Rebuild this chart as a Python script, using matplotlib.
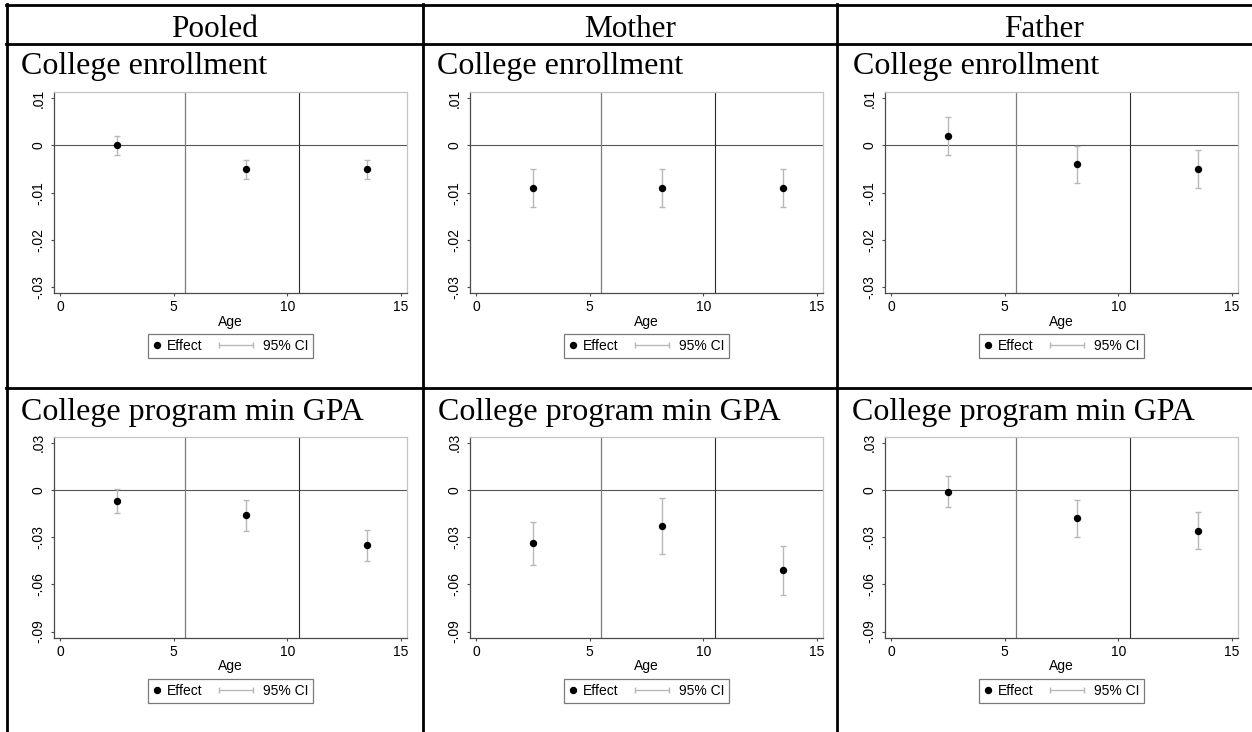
import numpy as np
import matplotlib
matplotlib.use("Agg")
import matplotlib.pyplot as plt
from matplotlib.lines import Line2D
from matplotlib.legend_handler import HandlerLine2D

# ---------------- data ----------------
ages = [2.5, 8.2, 13.5]
columns = ["Pooled", "Mother", "Father"]
outcomes = ["College enrollment", "College program min GPA"]

# College enrollment
enr_pooled = [0.0, -0.005, -0.005]
enr_pooled_lo = [-0.002, -0.007, -0.007]
enr_pooled_hi = [0.002, -0.003, -0.003]
enr_mother = [-0.009, -0.009, -0.009]
enr_mother_lo = [-0.013, -0.013, -0.013]
enr_mother_hi = [-0.005, -0.005, -0.005]
enr_father = [0.002, -0.004, -0.005]
enr_father_lo = [-0.002, -0.008, -0.009]
enr_father_hi = [0.006, -0.0002, -0.001]

# College program min GPA
gpa_pooled = [-0.0072, -0.0161, -0.0352]
gpa_pooled_lo = [-0.015, -0.0259, -0.045]
gpa_pooled_hi = [0.0008, -0.0064, -0.0254]
gpa_mother = [-0.0339, -0.0231, -0.0511]
gpa_mother_lo = [-0.0477, -0.0407, -0.0668]
gpa_mother_hi = [-0.0204, -0.0053, -0.0354]
gpa_father = [-0.0011, -0.018, -0.0261]
gpa_father_lo = [-0.0108, -0.0299, -0.0377]
gpa_father_hi = [0.0087, -0.0064, -0.0144]

enr_ticks = [-0.03, -0.02, -0.01, 0, 0.01]
enr_ticklabels = ["-.03", "-.02", "-.01", "0", ".01"]
gpa_ticks = [-0.09, -0.06, -0.03, 0, 0.03]
gpa_ticklabels = ["-.09", "-.06", "-.03", "0", ".03"]
age_ticks = [0, 5, 10, 15]
cutoffs = [5.5, 10.5]
#---------------------------------------

W, H = 1252, 732
fig = plt.figure(figsize=(W / 100, H / 100), dpi=100)
fig.patch.set_facecolor("white")

serif = "Liberation Serif"
sans = "Liberation Sans"
fs = 10


def fx(px):
    return px / W


def fy(py):
    return 1 - py / H


class CIHandler(HandlerLine2D):
    # stretch the CI line to the left so the dot handle can stay short
    def create_artists(self, legend, orig_handle, xdescent, ydescent,
                       width, height, fontsize, trans):
        ext = 2.4 * fontsize
        return super().create_artists(legend, orig_handle, xdescent + ext, ydescent,
                                      width + ext, height, fontsize, trans)


# table lines
lw_tab = 2.0
for x in [7, 423, 837]:
    fig.add_artist(Line2D([fx(x), fx(x)], [fy(4), fy(732)], color="black", lw=lw_tab,
                          transform=fig.transFigure))
for y in [5, 44, 388]:
    fig.add_artist(Line2D([fx(6), fx(1252)], [fy(y), fy(y)], color="black", lw=lw_tab,
                          transform=fig.transFigure))

# headers
for name, cx in zip(columns, [215, 630, 1044]):
    fig.text(fx(cx), fy(37), name, ha="center", va="baseline",
             fontfamily=serif, fontsize=22.5)

panels = [
    [(enr_pooled, enr_pooled_lo, enr_pooled_hi),
     (enr_mother, enr_mother_lo, enr_mother_hi),
     (enr_father, enr_father_lo, enr_father_hi)],
    [(gpa_pooled, gpa_pooled_lo, gpa_pooled_hi),
     (gpa_mother, gpa_mother_lo, gpa_mother_hi),
     (gpa_father, gpa_father_lo, gpa_father_hi)],
]

col_left = [54, 470, 885]
ax_w = 353
row_top = [92, 436.7]
ax_h = 201
title_x = [[21, 437, 853], [21, 438, 852]]
title_base = [74, 420]
ylims = [(-0.0312, 0.0113), (-0.0939, 0.0337)]
yticks = [(enr_ticks, enr_ticklabels), (gpa_ticks, gpa_ticklabels)]

for r in range(2):
    for c in range(3):
        eff, lo, hi = panels[r][c]
        eff = np.array(eff)
        lo = np.array(lo)
        hi = np.array(hi)
        ax = fig.add_axes([fx(col_left[c]), fy(row_top[r] + ax_h), fx(ax_w), ax_h / H])

        fig.text(fx(title_x[r][c]), fy(title_base[r]), outcomes[r], ha="left",
                 va="baseline", fontfamily=serif, fontsize=23)

        ax.axhline(0, color="#555555", lw=0.8, zorder=1)
        ax.axvline(cutoffs[0], color="#7c7c7c", lw=0.9, zorder=1)
        ax.axvline(cutoffs[1], color="#2a2a2a", lw=0.8, zorder=1)

        ax.errorbar(ages, eff, yerr=[eff - lo, hi - eff], fmt="none", ecolor="#b8b8b8",
                    elinewidth=1.0, capsize=2.2, capthick=1.0, zorder=2)
        ax.plot(ages, eff, "o", color="black", markersize=4.3, zorder=3)

        ax.set_xlim(-0.27, 15.27)
        ax.set_ylim(*ylims[r])
        ax.set_xticks(age_ticks)
        ax.set_xticklabels([str(a) for a in age_ticks])
        ax.set_yticks(yticks[r][0])
        ax.set_yticklabels(yticks[r][1], rotation=90, va="center")

        for s in ["top", "right"]:
            ax.spines[s].set_color("#c4c4c4")
            ax.spines[s].set_linewidth(0.9)
        for s in ["left", "bottom"]:
            ax.spines[s].set_color("#4a4a4a")
            ax.spines[s].set_linewidth(0.9)
        ax.tick_params(length=2.5, width=0.8, color="#4a4a4a", labelsize=fs,
                       labelcolor="black")
        ax.tick_params(axis="x", pad=2.5)
        ax.tick_params(axis="y", pad=3.5)
        for lbl in ax.get_xticklabels() + ax.get_yticklabels():
            lbl.set_fontfamily(sans)

        ax.set_xlabel("Age", fontfamily=sans, fontsize=fs, labelpad=0.5)

        h_eff = Line2D([], [], ls="none", marker="o", color="black", markersize=4.3)
        h_ci = Line2D([], [], color="#b8b8b8", lw=1.0, marker="|", markersize=4,
                      markeredgewidth=1.0)
        leg = ax.legend([h_eff, h_ci], ["Effect", "95% CI"], ncol=2,
                        loc="upper center", bbox_to_anchor=(0.5, -0.205),
                        borderaxespad=0, handler_map={h_ci: CIHandler(numpoints=2)},
                        handlelength=0.6, handletextpad=0.45, columnspacing=3.3,
                        borderpad=0.35, fancybox=False, framealpha=1,
                        edgecolor="#7a7a7a", prop={"family": sans, "size": fs})
        leg.get_frame().set_linewidth(0.9)

fig.savefig("out.png", dpi=100, facecolor="white")
